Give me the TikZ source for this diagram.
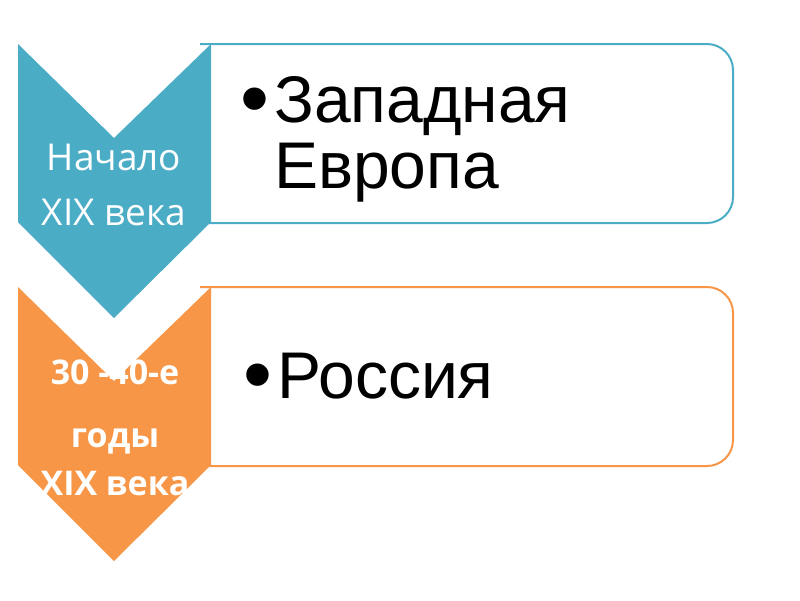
\documentclass[tikz,border=0pt]{standalone}
\usepackage{fontspec}
\setmainfont{Liberation Sans}
\newfontfamily\labelfont{Open Sans}
\definecolor{aqua}{HTML}{4BACC6}
\definecolor{orng}{HTML}{F79646}
\newcommand{\bigdot}{\llap{\raisebox{-4pt}{\scalebox{1.25}{•}}\hspace{5pt}}}

\begin{document}
\begin{tikzpicture}[x=1pt,y=-1pt]
	\useasboundingbox (0,0) rectangle (800,600);
	% one row per period: box first, chevron over its left edge
	\foreach \t/\c in {44/aqua,287/orng} {
		\draw[\c,line width=2,fill=white,rounded corners=26] (200,\t) -- (733,\t) -- (733,\t+179) -- (200,\t+179);
		\fill[\c] (18,\t) -- (114,\t+94) -- (211,\t) -- (211,\t+178) -- (114,\t+274) -- (18,\t+178) -- cycle;
	}
	\node[anchor=base,align=center,text=white,font=\labelfont\fontsize{37}{55}\selectfont] (early) at (114,225) {Начало\\XIX века};
	\node[anchor=base,align=center,text=white,font=\labelfont\bfseries\fontsize{34}{48}\selectfont] (late) at (115,495) {30 -40-е\\[15pt]годы\\XIX века};
	\node[anchor=base west,align=left,inner sep=0,font=\fontsize{66}{66}\selectfont] (west) at (274,188) {\bigdot Западная\\Европа};
	\node[anchor=base west,align=left,inner sep=0,font=\fontsize{66}{66}\selectfont] (russia) at (277,398) {\bigdot Россия};
\end{tikzpicture}
\end{document}
